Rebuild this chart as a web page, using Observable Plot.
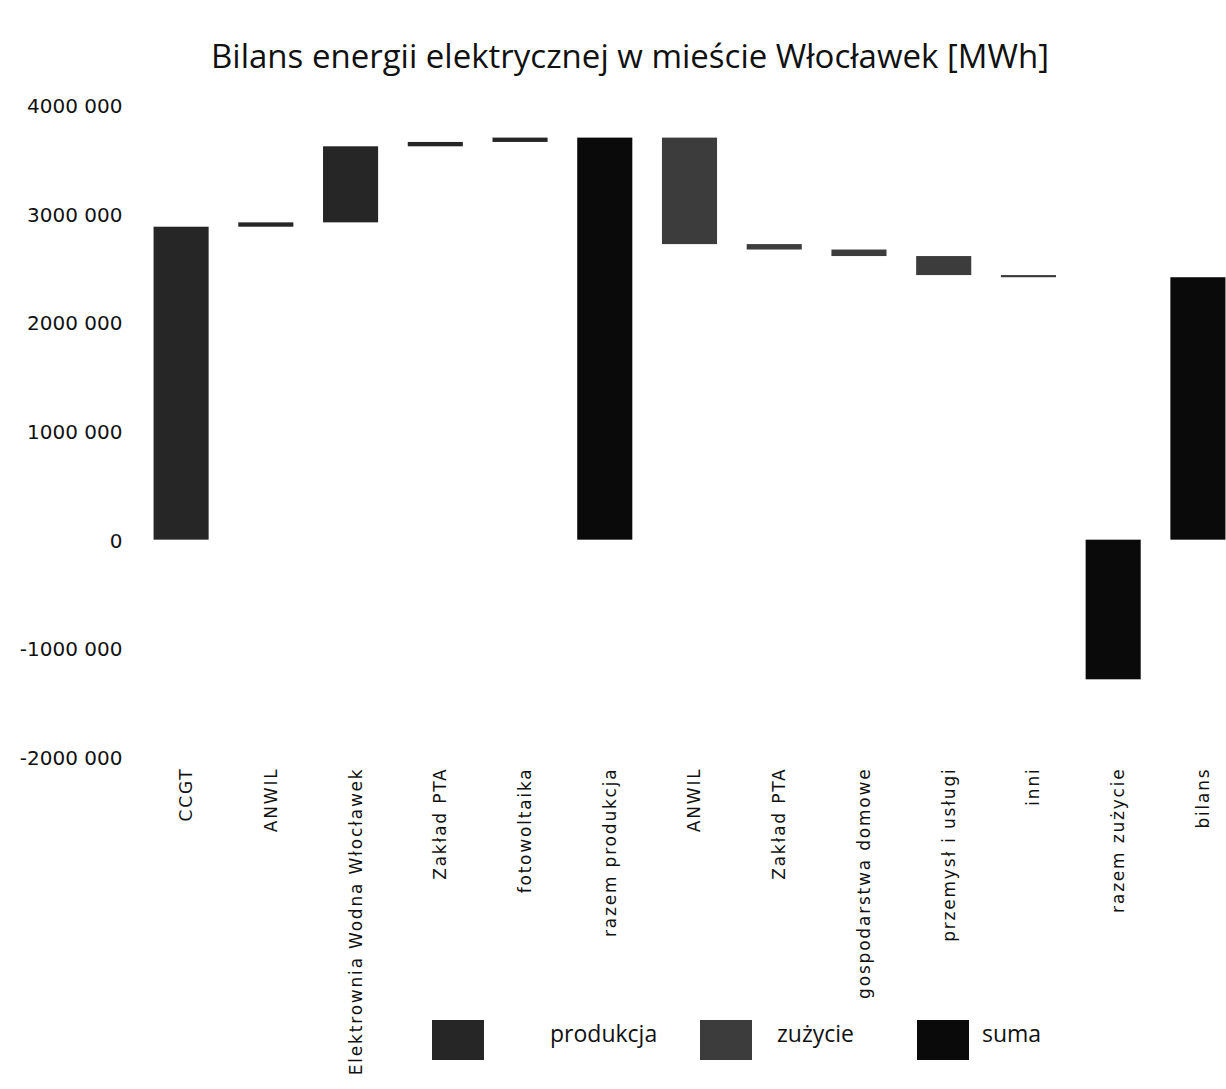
<!DOCTYPE html>
<html>
<head>
<meta charset="utf-8">
<script src="https://cdn.jsdelivr.net/npm/d3@7"></script>
<script src="https://cdn.jsdelivr.net/npm/@observablehq/plot@0.6"></script>
<style>
  html, body { margin: 0; padding: 0; background: #fff; overflow: hidden; width: 1226px; height: 1089px; }
  #wrap { position: relative; width: 1226px; height: 1089px; overflow: hidden; }
  #chart { position: absolute; left: 0; top: 0; width: 1239px; }
  #chart svg { max-width: none !important; }
  #title { position: absolute; left: 0; width: 1260px; top: 33px; text-align: center;
           font-family: "Open Sans", sans-serif; font-size: 33px; color: #111; white-space: nowrap; }
  .sw { position: absolute; width: 52px; height: 40px; top: 1020px; }
  .lt { position: absolute; top: 1013px; height: 40px; line-height: 40px;
        font-family: "Open Sans", sans-serif; font-size: 23px; color: #111; }
  #chart svg g[aria-label="x-axis tick label"] text { letter-spacing: 1.8px; }
</style>
</head>
<body>
<div id="wrap">
  <div id="chart"></div>
  <div id="title">Bilans energii elektrycznej w mieście Włocławek [MWh]</div>
  <div id="legend"></div>
</div>
<script>
// ---- data ----
const categories = ["CCGT", "ANWIL", "Elektrownia Wodna Włocławek", "Zakład PTA", "fotowoltaika",
  "razem produkcja", "ANWIL", "Zakład PTA", "gospodarstwa domowe", "przemysł i usługi", "inni",
  "razem zużycie", "bilans"];
const values = [2880000, 40000, 700000, 40000, 40000, 3700000,
  -980000, -50000, -60000, -175000, -20000, -1285000, 2415000];
const kinds = ["produkcja", "produkcja", "produkcja", "produkcja", "produkcja", "suma",
  "zużycie", "zużycie", "zużycie", "zużycie", "zużycie", "suma", "suma"];
const legendNames = ["produkcja", "zużycie", "suma"];
const legendColors = ["#262626", "#3c3c3c", "#0a0a0a"];
const yTicks = [-2000000, -1000000, 0, 1000000, 2000000, 3000000, 4000000];

// ---- waterfall table ----
let running = 0;
const rows = categories.map((c, i) => {
  let y1, y2;
  if (kinds[i] === "suma") { y1 = 0; y2 = values[i]; running = (i === 11) ? running : values[i]; }
  else { y1 = running; y2 = running + values[i]; running = y2; }
  return { i, label: c, kind: kinds[i], y1, y2 };
});

const fmt = d => d === 0 ? "0" : (d < 0 ? "-" : "") + (Math.abs(d) / 1000) + " 000";

const chart = Plot.plot({
  width: 1239,
  height: 1089,
  marginTop: 105,
  marginBottom: 332,
  marginLeft: 140,
  marginRight: 0,
  style: { background: "transparent", fontFamily: "DejaVu Sans, sans-serif", color: "#111", maxWidth: "none" },
  x: { type: "band", domain: d3.range(categories.length), paddingInner: 0.35, paddingOuter: 0.16, round: false, label: null },
  y: { domain: [-2000000, 4000000], label: null },
  color: { domain: legendNames, range: legendColors },
  marks: [
    Plot.barY(rows, { x: "i", y1: "y1", y2: "y2", fill: "kind", insetTop: 0, insetBottom: 0 }),
    Plot.axisY({ ticks: yTicks, tickFormat: fmt, tickSize: 0, tickPadding: 18, fontSize: 20, dy: 1, label: null }),
    Plot.axisX({ tickFormat: i => categories[i], tickRotate: -90, tickSize: 0, tickPadding: 10, dx: 5,
                 fontSize: 17, label: null, fontFamily: "DejaVu Sans, sans-serif" })
  ]
});
document.getElementById("chart").appendChild(chart);

// ---- legend ----
const legend = document.getElementById("legend");
const swX = [432, 700, 917];
const txX = [550, 777, 982];
legendNames.forEach((n, k) => {
  const s = document.createElement("div");
  s.className = "sw"; s.style.left = swX[k] + "px"; s.style.background = legendColors[k];
  legend.appendChild(s);
  const t = document.createElement("div");
  t.className = "lt"; t.style.left = txX[k] + "px"; t.textContent = n;
  legend.appendChild(t);
});
</script>
</body>
</html>
